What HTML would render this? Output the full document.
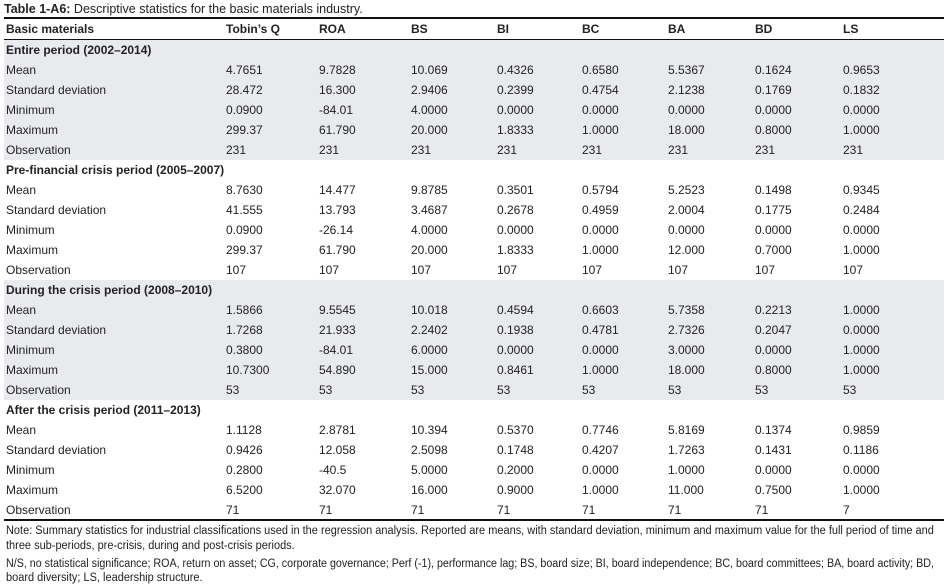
<!DOCTYPE html>
<html><head><meta charset="utf-8"><style>
body{margin:0;width:949px;height:585px;background:#fff;position:relative;font-family:"Liberation Sans",sans-serif;color:#222;overflow:hidden}
.t{position:absolute;white-space:nowrap;font-size:12px;line-height:14px}
.b{font-weight:bold}
.bg{position:absolute;left:4px;width:940px;background:#e9eaee}
.ln{position:absolute;left:4px;width:940px;background:#111}
.n{position:absolute;left:6px;white-space:nowrap;font-size:11.5px;line-height:14px;transform:scaleX(0.955);transform-origin:left}
</style></head><body>
<div class="t" style="left:4px;top:2px;font-size:12.5px"><b>Table 1-A6:</b> Descriptive statistics for the basic materials industry.</div>
<div class="ln" style="top:17px;height:2px"></div>
<div class="bg" style="top:40px;height:120px"></div>
<div class="bg" style="top:280px;height:120px"></div>
<div class="ln" style="top:39px;height:1px"></div>
<div class="ln" style="top:519px;height:2px"></div>
<div id="tbl"></div>
<script>
const cols=[226,319,411,497,582,668,755,843];
let h='';
function t(x,y,s,b){h+=`<div class="t${b?' b':''}" style="left:${x}px;top:${y-7}px">${s}</div>`;}
t(6,29,'Basic materials',1);
['Tobin’s Q','ROA','BS','BI','BC','BA','BD','LS'].forEach((s,i)=>t(cols[i],29,s,1));
const secs=[
['Entire period (2002–2014)',[
['Mean','4.7651','9.7828','10.069','0.4326','0.6580','5.5367','0.1624','0.9653'],
['Standard deviation','28.472','16.300','2.9406','0.2399','0.4754','2.1238','0.1769','0.1832'],
['Minimum','0.0900','-84.01','4.0000','0.0000','0.0000','0.0000','0.0000','0.0000'],
['Maximum','299.37','61.790','20.000','1.8333','1.0000','18.000','0.8000','1.0000'],
['Observation','231','231','231','231','231','231','231','231']]],
['Pre-financial crisis period (2005–2007)',[
['Mean','8.7630','14.477','9.8785','0.3501','0.5794','5.2523','0.1498','0.9345'],
['Standard deviation','41.555','13.793','3.4687','0.2678','0.4959','2.0004','0.1775','0.2484'],
['Minimum','0.0900','-26.14','4.0000','0.0000','0.0000','0.0000','0.0000','0.0000'],
['Maximum','299.37','61.790','20.000','1.8333','1.0000','12.000','0.7000','1.0000'],
['Observation','107','107','107','107','107','107','107','107']]],
['During the crisis period (2008–2010)',[
['Mean','1.5866','9.5545','10.018','0.4594','0.6603','5.7358','0.2213','1.0000'],
['Standard deviation','1.7268','21.933','2.2402','0.1938','0.4781','2.7326','0.2047','0.0000'],
['Minimum','0.3800','-84.01','6.0000','0.0000','0.0000','3.0000','0.0000','1.0000'],
['Maximum','10.7300','54.890','15.000','0.8461','1.0000','18.000','0.8000','1.0000'],
['Observation','53','53','53','53','53','53','53','53']]],
['After the crisis period (2011–2013)',[
['Mean','1.1128','2.8781','10.394','0.5370','0.7746','5.8169','0.1374','0.9859'],
['Standard deviation','0.9426','12.058','2.5098','0.1748','0.4207','1.7263','0.1431','0.1186'],
['Minimum','0.2800','-40.5','5.0000','0.2000','0.0000','1.0000','0.0000','0.0000'],
['Maximum','6.5200','32.070','16.000','0.9000','1.0000','11.000','0.7500','1.0000'],
['Observation','71','71','71','71','71','71','71','7']]]];
let y=50;
secs.forEach(([name,rows])=>{t(6,y,name,1);y+=20;rows.forEach(r=>{t(6,y,r[0]);for(let i=1;i<9;i++)t(cols[i-1],y,r[i]);y+=20;});});
document.getElementById('tbl').innerHTML=h;
</script>
<div class="n" style="top:524px">Note: Summary statistics for industrial classifications used in the regression analysis. Reported are means, with standard deviation, minimum and maximum value for the full period of time and</div>
<div class="n" style="top:539px">three sub-periods, pre-crisis, during and post-crisis periods.</div>
<div class="n" style="top:557px;transform:scaleX(0.93)">N/S, no statistical significance; ROA, return on asset; CG, corporate governance; Perf (-1), performance lag; BS, board size; BI, board independence; BC, board committees; BA, board activity; BD,</div>
<div class="n" style="top:571px">board diversity; LS, leadership structure.</div>
</body></html>
